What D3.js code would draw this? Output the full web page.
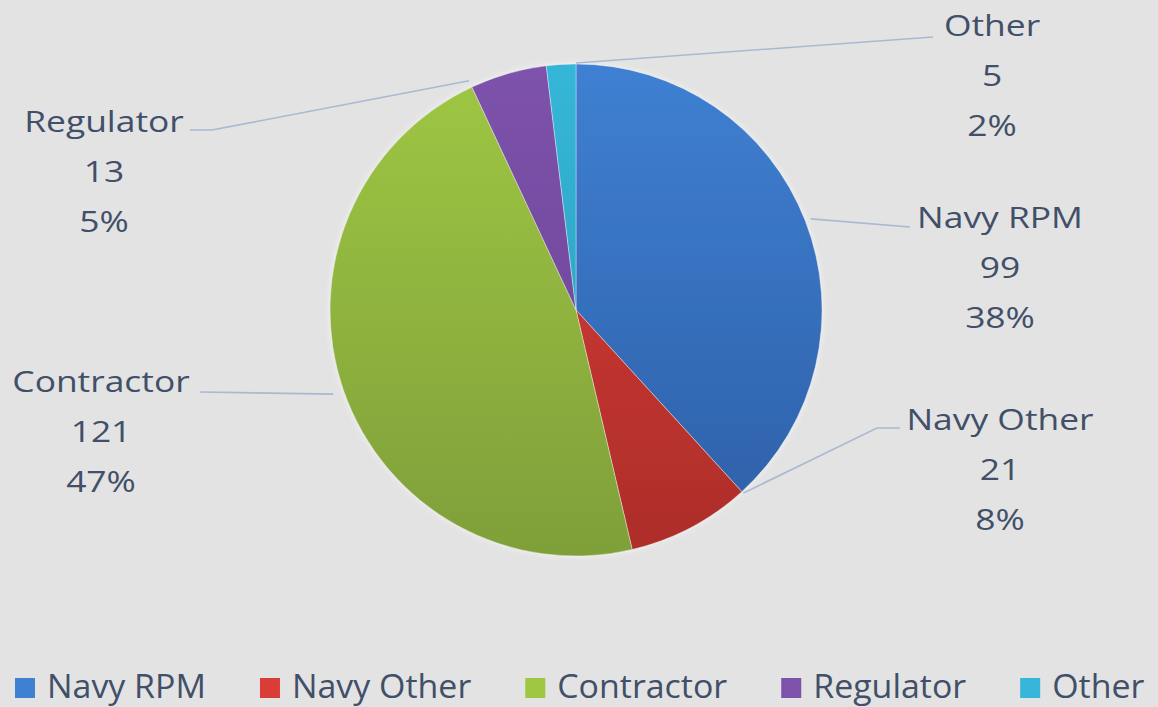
<!DOCTYPE html>
<html>
<head>
<meta charset="utf-8">
<script src="https://cdn.jsdelivr.net/npm/d3@7"></script>
<style>
  html, body { margin: 0; padding: 0; background: #e3e3e3; }
  svg { display: block; }
  text { font-family: "Open Sans", "Noto Sans", sans-serif; fill: #414f68; }
</style>
</head>
<body>
<svg id="chart" width="1158" height="707"></svg>
<script>
// ---- data ----
const categories = ["Navy RPM", "Navy Other", "Contractor", "Regulator", "Other"];
const counts = [99, 21, 121, 13, 5];
const percentLabels = ["38%", "8%", "47%", "5%", "2%"];

// ---- style / layout ----
const colorsTop    = ["#3f80d2", "#d93d37", "#9fc744", "#7d52ab", "#36b6d8"];
const colorsBottom = ["#2d5ea6", "#ad2d2a", "#7f9f39", "#6a4393", "#2798b8"];
const W = 1158, H = 707;
const cx = 576, cy = 310, R = 246;
// label layout: centre x, first baseline, leader start (label side), elbow, anchor fraction within slice, leader radius
const labelLayout = [
  { cx: 1000, y0: 228, sx: 910, ex: 910, ey: 227, frac: 0.5, rr: 252 },
  { cx: 1000, y0: 430, sx: 900, ex: 877, ey: 428, frac: 0.0, rr: 248 },
  { cx: 101,  y0: 392, sx: 200, ex: 200, ey: 392, frac: 0.5, rr: 257 },
  { cx: 104,  y0: 132, sx: 190, ex: 212, ey: 130, frac: 0.0, rr: 253 },
  { cx: 992,  y0: 36,  sx: 933, ex: 933, ey: 37,  frac: 1.0, rr: 247 }
];
const lineH = 50;
const labelScaleX = 1.18, labelSize = 30;
const legendScaleX = 1.06, legendSize = 32;

const svg = d3.select("#chart");
svg.append("rect").attr("width", W).attr("height", H).attr("fill", "#e3e3e3");

const defs = svg.append("defs");
categories.forEach((c, i) => {
  const g = defs.append("linearGradient").attr("id", "grad" + i)
    .attr("gradientUnits", "userSpaceOnUse")
    .attr("x1", 0).attr("y1", -R).attr("x2", 0).attr("y2", R);
  g.append("stop").attr("offset", "0%").attr("stop-color", colorsTop[i]);
  g.append("stop").attr("offset", "100%").attr("stop-color", colorsBottom[i]);
});
const soft = defs.append("filter").attr("id", "soft")
  .attr("x", "-10%").attr("y", "-10%").attr("width", "120%").attr("height", "120%");
soft.append("feGaussianBlur").attr("in", "SourceAlpha").attr("stdDeviation", 3).attr("result", "b");
soft.append("feFlood").attr("flood-color", "#ffffff").attr("flood-opacity", 0.6);
soft.append("feComposite").attr("in2", "b").attr("operator", "in").attr("result", "glow");
const mg = soft.append("feMerge");
mg.append("feMergeNode").attr("in", "glow");
mg.append("feMergeNode").attr("in", "SourceGraphic");

const data = categories.map((c, i) => ({ name: c, value: counts[i], pct: percentLabels[i] }));
const pie = d3.pie().value(d => d.value).sort(null);
const arcs = pie(data);
const arc = d3.arc().innerRadius(0).outerRadius(R);

const g = svg.append("g").attr("transform", `translate(${cx},${cy})`).attr("filter", "url(#soft)");
g.selectAll("path").data(arcs).join("path")
  .attr("d", arc)
  .attr("fill", d => `url(#grad${d.index})`)
  .attr("stroke", "rgba(255,255,255,0.35)")
  .attr("stroke-width", 1);

// leader lines
arcs.forEach((d, i) => {
  const L = labelLayout[i];
  const ang = d.startAngle + (d.endAngle - d.startAngle) * L.frac;
  const px = cx + L.rr * Math.sin(ang);
  const py = cy - L.rr * Math.cos(ang);
  const pts = [[L.sx, L.ey], [L.ex, L.ey], [px, py]];
  svg.append("path")
    .attr("d", d3.line()(pts))
    .attr("fill", "none")
    .attr("stroke", "#a9b9d2")
    .attr("stroke-width", 1.6);
});

// data labels
arcs.forEach((d, i) => {
  const L = labelLayout[i];
  const lines = [d.data.name, String(d.data.value), d.data.pct];
  lines.forEach((t, k) => {
    svg.append("text")
      .attr("transform", `translate(${L.cx},${L.y0 + k * lineH}) scale(${labelScaleX},1)`)
      .attr("text-anchor", "middle")
      .attr("font-size", labelSize)
      .text(t);
  });
});

// legend
const legend = svg.append("g");
let x = 15;
const legY = 698;
categories.forEach((c, i) => {
  legend.append("rect").attr("x", x).attr("y", legY - 20).attr("width", 20).attr("height", 20)
    .attr("fill", colorsTop[i]);
  const t = legend.append("text")
    .attr("transform", `translate(${x + 32},${legY}) scale(${legendScaleX},1)`)
    .attr("font-size", legendSize)
    .text(c);
  const w = t.node().getComputedTextLength() * legendScaleX;
  x = x + 32 + w + 54;
});
</script>
</body>
</html>
